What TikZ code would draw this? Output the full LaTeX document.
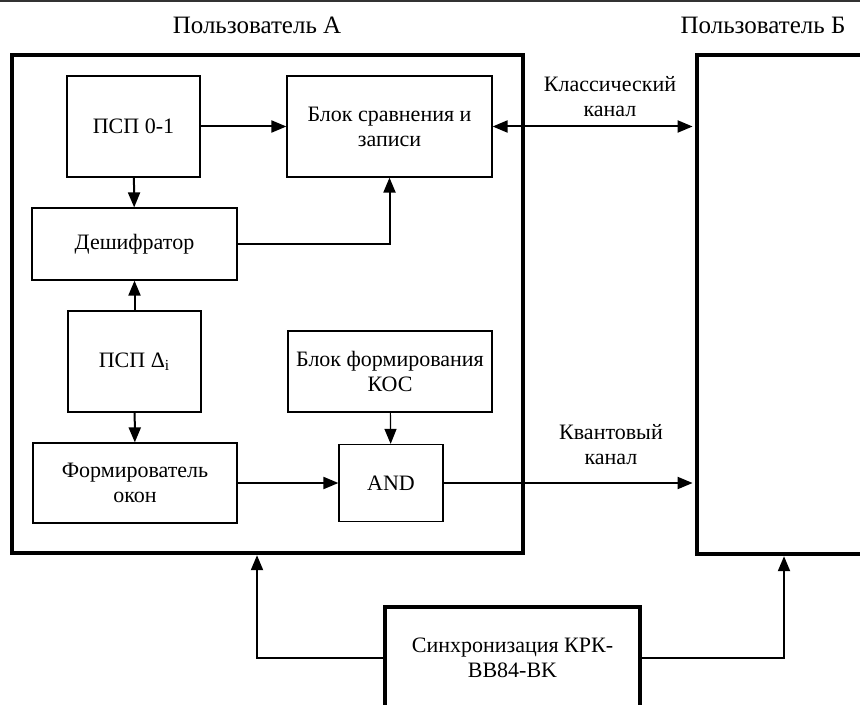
\documentclass[tikz,border=0pt]{standalone}
\usepackage{fontspec}
\setmainfont{Liberation Serif}
\usetikzlibrary{arrows.meta,calc}
\begin{document}
\begin{tikzpicture}[x=0.5pt,y=-0.5pt,
    every node/.style={font=\fontsize{11}{12.5}\selectfont, align=center},
    title/.style={font=\fontsize{12.5}{14}\selectfont},
    blk/.style={draw,line width=0.6pt,inner sep=0pt},
    usr/.style={draw,line width=2.2pt,inner sep=0pt},
    conn/.style={line width=1pt,-{Triangle[length=7.5pt,width=6pt]}},
    thinconn/.style={line width=0.6pt,-{Triangle[length=7.5pt,width=6pt]}}]
      \useasboundingbox (0,0) rectangle (860,705);
      \clip (0,0) rectangle (860,705);
      \draw[line width=0.8pt,black!80] (0,1) -- (860,1);
      \node[title] (titleA) at (257,25) {Пользователь А};
      \node[title] (titleB) at (763,25) {Пользователь Б};
      \node[usr,minimum width=255.5pt,minimum height=249pt] (userA) at (267.5,304) {};
      \node[usr,minimum width=103pt,minimum height=249.5pt] (userB) at (800,304.5) {};
      \node[blk,minimum width=66.5pt,minimum height=50.5pt] (psp) at (133.5,126.5) {ПСП 0-1};
      \node[blk,minimum width=102.5pt,minimum height=50.5pt] (cmp) at (389.5,126.5) {Блок сравнения и\\записи};
      \node[blk,minimum width=102.5pt,minimum height=36pt] (dec) at (134.5,244) {Дешифратор};
      \node[blk,minimum width=66.5pt,minimum height=50.5pt] (pspd) at (134.5,361.5) {ПСП Δ\textsubscript{i}};
      \node[blk,minimum width=102pt,minimum height=40pt] (win) at (135,483) {Формирователь\\окон};
      \node[blk,minimum width=102pt,minimum height=40.5pt] (kos) at (390,371.5) {Блок формирования\\КОС};
      \node[blk,minimum width=52pt,minimum height=38.5pt] (and) at (391,483) {AND};
      \node[usr,minimum width=127.5pt,minimum height=51pt] (sync) at (512.5,658) {Синхронизация КРК-\\BB84-BK};
      \node (classic) at (610,97) {Классический\\канал};
      \node (quantum) at (611,445) {Квантовый\\канал};
      \coordinate (inA) at (257,553);
      \coordinate (inB) at (784,554);
      \draw[conn] (psp) -- (cmp);
      \draw[conn] (psp) -- (dec);
      \draw[conn] (dec.east) -| (cmp.south);
      \draw[conn] (pspd) -- (dec);
      \draw[conn] (pspd) -- (win);
      \draw[thinconn] (kos) -- (and);
      \draw[conn] (win) -- (and);
      \draw[conn,shorten >=1.1pt] (and.east) -- (and.east -| userB.west);
      \draw[line width=1pt,{Triangle[length=7.5pt,width=6pt]}-{Triangle[length=7.5pt,width=6pt]},shorten >=1.1pt] (cmp.east) -- (cmp.east -| userB.west);
      \draw[conn,shorten >=1.1pt] (sync.west) -| (inA);
      \draw[conn,shorten >=1.1pt] (sync.east) -| (inB);
\end{tikzpicture}
\end{document}
